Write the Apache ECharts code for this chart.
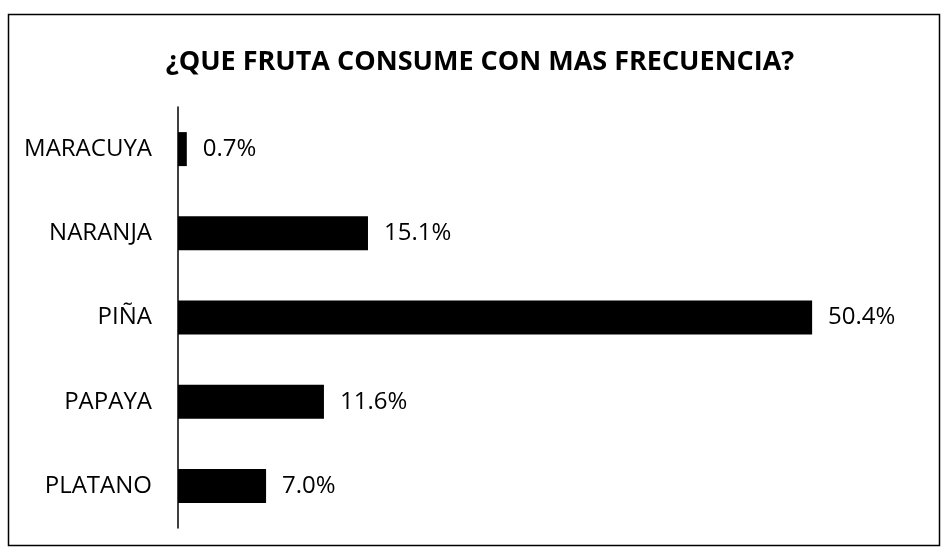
<!DOCTYPE html>
<html>
<head>
<meta charset="utf-8">
<script src="https://cdn.jsdelivr.net/npm/echarts@6/dist/echarts.min.js"></script>
<style>
  html, body { margin: 0; padding: 0; background: #fff; }
  #chart { width: 948px; height: 552px; }
</style>
</head>
<body>
<div id="chart"></div>
<script>
const categories = ['MARACUYA', 'NARANJA', 'PIÑA', 'PAPAYA', 'PLATANO']
const values = [0.7, 15.1, 50.4, 11.6, 7.0]
const titleText = '¿QUE FRUTA CONSUME CON MAS FRECUENCIA?'

const chart = echarts.init(document.getElementById('chart'))
const font = '"Open Sans", sans-serif'

chart.setOption({
  backgroundColor: '#fff',
  animation: false,
  title: {
    text: titleText,
    left: 475,
    top: 44,
    textAlign: 'center',
    textStyle: { fontFamily: font, fontSize: 27, fontWeight: 'bold', color: '#000' }
  },
  graphic: [{
    type: 'rect',
    shape: { x: 8.5, y: 14.5, width: 931, height: 531 },
    style: { fill: 'none', stroke: '#000', lineWidth: 1.5 }
  }],
  grid: { left: 178, top: 107, width: 692, height: 421 },
  xAxis: {
    type: 'value',
    min: 0,
    max: 55,
    show: false
  },
  yAxis: {
    type: 'category',
    data: categories,
    inverse: true,
    axisLine: { lineStyle: { color: '#000', width: 1.5 } },
    axisTick: { show: false },
    axisLabel: {
      fontFamily: font,
      fontSize: 24,
      color: '#000',
      margin: 26
    }
  },
  series: [{
    type: 'bar',
    data: values,
    barWidth: 34,
    itemStyle: { color: '#000' },
    label: {
      show: true,
      position: 'right',
      distance: 16,
      fontFamily: font,
      fontSize: 24,
      color: '#000',
      formatter: p => p.value.toFixed(1) + '%'
    }
  }]
})
</script>
</body>
</html>
